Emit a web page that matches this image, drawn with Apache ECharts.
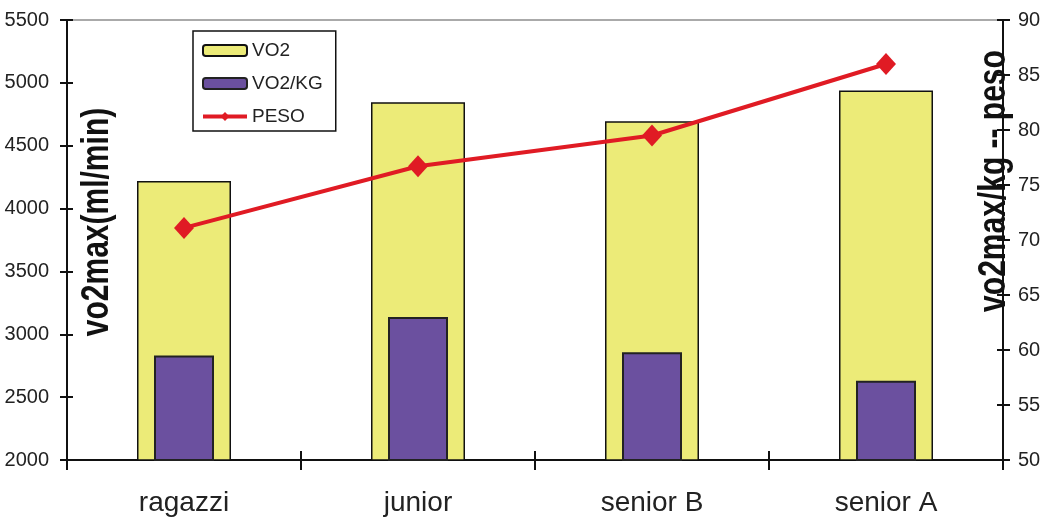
<!DOCTYPE html>
<html>
<head>
<meta charset="utf-8">
<script src="https://cdn.jsdelivr.net/npm/echarts@6/dist/echarts.min.js"></script>
<style>
html,body{margin:0;padding:0;background:#fff;}
#c{width:1051px;height:520px;}
</style>
</head>
<body>
<div id="c"></div>
<script>
const categories = ['ragazzi', 'junior', 'senior B', 'senior A'];
const vo2 = [4220, 4845, 4695, 4940];
const vo2kg = [59.5, 63.0, 59.8, 57.2];
const peso = [71.1, 76.7, 79.5, 86.0];
const leftTitle = 'vo2max(ml/min)';
const rightTitle = 'vo2max/kg -- peso';

const FONT = '"Liberation Sans", Arial, sans-serif';
const chart = echarts.init(document.getElementById('c'), null, {renderer: 'canvas'});

const hiddenY = (pos, min, max, interval) => ({
  type: 'value', position: pos, min, max, interval,
  axisLine: {show: false}, axisLabel: {show: false}, splitLine: {show: false},
  axisTick: {show: true, inside: true, length: 6, lineStyle: {color: '#111', width: 2}}
});

chart.setOption({
  animation: false,
  backgroundColor: '#fff',
  grid: {left: 67, right: 48, top: 20, bottom: 60, containLabel: false},
  legend: {
    orient: 'vertical', left: 193, top: 31,
    padding: [10, 13, 5, 8], itemGap: 14,
    itemWidth: 44, itemHeight: 11,
    backgroundColor: '#fff', borderColor: '#111', borderWidth: 1.5,
    textStyle: {fontFamily: FONT, fontSize: 19, color: '#222'},
    data: ['VO2', 'VO2/KG', {name: 'PESO', lineStyle: {width: 4}}]
  },
  xAxis: [
    {
      type: 'category', data: categories, position: 'bottom',
      axisLine: {lineStyle: {color: '#111', width: 2}},
      axisTick: {show: true, length: 10, lineStyle: {color: '#111', width: 2}},
      axisLabel: {fontFamily: FONT, fontSize: 28, color: '#222', margin: 29},
      splitLine: {show: false}
    },
    {
      type: 'category', data: categories, position: 'bottom',
      axisLine: {show: false},
      axisTick: {show: true, inside: true, length: 9, lineStyle: {color: '#111', width: 2}},
      axisLabel: {show: false}, splitLine: {show: false}
    },
    {
      type: 'category', data: categories, position: 'top',
      axisLine: {show: true, lineStyle: {color: '#aaa', width: 2}},
      axisTick: {show: false}, axisLabel: {show: false}, splitLine: {show: false}
    }
  ],
  yAxis: [
    {
      type: 'value', position: 'left', min: 2000, max: 5500, interval: 500,
      axisLine: {show: true, lineStyle: {color: '#111', width: 2}},
      axisTick: {show: true, length: 7, lineStyle: {color: '#111', width: 2}},
      axisLabel: {fontFamily: FONT, fontSize: 20, color: '#222', margin: 18, formatter: v => String(v)},
      splitLine: {show: false}
    },
    {
      type: 'value', position: 'right', min: 50, max: 90, interval: 5,
      axisLine: {show: true, lineStyle: {color: '#111', width: 2}},
      axisTick: {show: true, length: 7, lineStyle: {color: '#111', width: 2}},
      axisLabel: {fontFamily: FONT, fontSize: 20, color: '#222', margin: 15},
      splitLine: {show: false}
    },
    hiddenY('left', 2000, 5500, 500),
    hiddenY('right', 50, 90, 5)
  ],
  series: [
    {
      name: 'VO2', type: 'bar', xAxisIndex: 0, yAxisIndex: 0,
      data: vo2, barWidth: 94, z: 2,
      itemStyle: {color: '#ECEB78', borderColor: '#111', borderWidth: 1.5}
    },
    {
      name: 'VO2/KG', type: 'bar', xAxisIndex: 1, yAxisIndex: 1,
      data: vo2kg, barWidth: 60, z: 3,
      itemStyle: {color: '#6B509F', borderColor: '#222', borderWidth: 2}
    },
    {
      name: 'PESO', type: 'line', xAxisIndex: 0, yAxisIndex: 1,
      data: peso, z: 5,
      symbol: 'diamond', symbolSize: [20, 22],
      lineStyle: {color: '#E01B24', width: 4},
      itemStyle: {color: '#E01B24'}
    }
  ],
  graphic: [
    {
      type: 'text', x: 97, y: 222, rotation: Math.PI / 2, scaleY: 1.3, z: 10,
      style: {text: leftTitle, font: 'bold 30px ' + FONT, fill: '#111', align: 'center', verticalAlign: 'middle'}
    },
    {
      type: 'text', x: 994, y: 181, rotation: Math.PI / 2, scaleY: 1.3, z: 10,
      style: {text: rightTitle, font: 'bold 30px ' + FONT, fill: '#111', align: 'center', verticalAlign: 'middle'}
    }
  ]
});
</script>
</body>
</html>
